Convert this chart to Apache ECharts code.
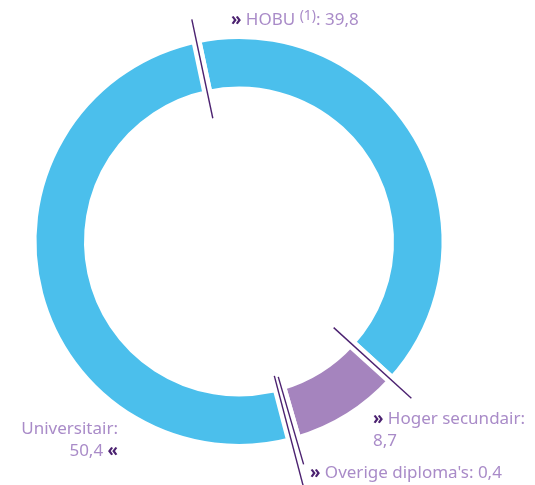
<!DOCTYPE html>
<html lang="nl">
  <head>
    <meta charset="UTF-8" />
    <title>Diploma's</title>
    <style>
      html,
      body {
        margin: 0;
        padding: 0;
        background: #fff;
      }
      #chart {
        width: 535px;
        height: 485px;
      }
    </style>
    <script src="https://cdn.jsdelivr.net/npm/echarts@6/dist/echarts.min.js"></script>
  </head>
  <body>
    <div id="chart"></div>
    <script>
      // data
      const names = ['HOBU', 'Hoger secundair', "Overige diploma's", 'Universitair']
      const notes = ['(1)', '', '', '']
      const values = [39.8, 8.7, 0.4, 50.4]

      const sliceColors = ['#4bbfec', '#a584be', '#ffffff', '#4bbfec']
      const textColor = '#a98bc8'
      const darkPurple = '#4b2170'

      const fmt = v => v.toFixed(1).replace('.', ',')

      // label placement (px), one per slice
      const labelPos = [
        { x: 231, y: 20, align: 'left', wrap: false, arrow: 'left' },
        { x: 373, y: 430, align: 'left', wrap: true, arrow: 'left' },
        { x: 310, y: 473, align: 'left', wrap: false, arrow: 'left' },
        { x: 118, y: 440, align: 'right', wrap: true, arrow: 'right' }
      ]
      // how far the boundary lines reach (inner, outer radius), per slice end
      const lineReach = [
        [128, 233],
        [141, 232],
        [139, 252],
        [126, 227]
      ]

      const chart = echarts.init(document.getElementById('chart'))

      function labelText(i) {
        const p = labelPos[i]
        const note = notes[i] ? ' {sup|' + notes[i] + '}' : ''
        const sep = p.wrap ? '\n' : ' '
        if (p.arrow === 'left') {
          return '{q|»} {t|' + names[i] + '}' + note + '{t|:' + sep + fmt(values[i]) + '}'
        }
        return '{t|' + names[i] + ':' + '}' + sep + '{t|' + fmt(values[i]) + '} {q|«}'
      }

      chart.setOption({
        animation: false,
        series: [
          {
            type: 'pie',
            center: [239, 241.5],
            radius: [150, 207.5],
            startAngle: 102,
            clockwise: true,
            silent: true,
            avoidLabelOverlap: false,
            itemStyle: {
              borderColor: '#fff',
              borderWidth: 10
            },
            label: {
              show: true,
              position: 'outside',
              alignTo: 'none',
              overflow: 'none',
              fontFamily: 'Noto Sans',
              fontSize: 17,
              color: textColor,
              lineHeight: 22,
              formatter: params => labelText(params.dataIndex),
              rich: {
                t: { fontFamily: 'Noto Sans', fontSize: 17, color: textColor, lineHeight: 22 },
                q: { fontFamily: 'Noto Sans', fontSize: 17, fontWeight: 'bold', color: darkPurple, lineHeight: 22 },
                sup: { fontFamily: 'Noto Sans', fontSize: 14, color: textColor, verticalAlign: 'top', lineHeight: 20 }
              }
            },
            labelLine: { show: false },
            labelLayout: params => {
              const p = labelPos[params.dataIndex]
              return { x: p.x, y: p.y, align: p.align, verticalAlign: 'middle', hideOverlap: false }
            },
            data: names.map((n, i) => ({
              name: n,
              value: values[i],
              itemStyle: { color: sliceColors[i] }
            }))
          }
        ]
      })

      // boundary lines through the gaps, taken from the pie layout
      const pieData = chart.getModel().getSeriesByIndex(0).getData()
      const lines = []
      for (let i = 0; i < names.length; i++) {
        const l = pieData.getItemLayout(i)
        const a = l.endAngle
        const [r1, r2] = lineReach[i]
        lines.push({
          type: 'line',
          silent: true,
          shape: {
            x1: l.cx + r1 * Math.cos(a),
            y1: l.cy + r1 * Math.sin(a),
            x2: l.cx + r2 * Math.cos(a),
            y2: l.cy + r2 * Math.sin(a)
          },
          style: { stroke: darkPurple, lineWidth: 1.4 },
          z: 10
        })
      }
      chart.setOption({ graphic: lines })
    </script>
  </body>
</html>
